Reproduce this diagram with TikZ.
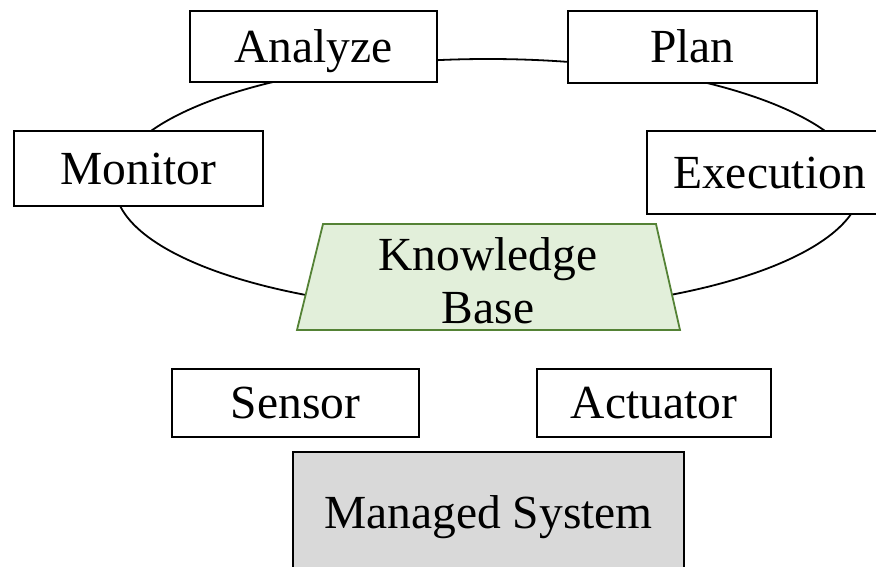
\documentclass[tikz,border=0pt]{standalone}
\usepackage{fontspec}
\setmainfont{Liberation Serif}
\begin{document}
\begin{tikzpicture}[x=1pt,y=-1pt,
  lbl/.style={font=\fontsize{47.5}{50}\selectfont, text height=31.4pt, text depth=0pt},
  box/.style={lbl, draw=black, line width=2pt, fill=white, inner sep=0pt},
  loop/.style={draw=black, line width=1.8pt},
  kbshape/.style={draw=kbline, fill=kbfill, line width=1.8pt, line join=miter},
]
\definecolor{kbfill}{HTML}{E2EFDA}
\definecolor{kbline}{HTML}{548235}
\definecolor{sysfill}{HTML}{D9D9D9}
\useasboundingbox (0,0) rectangle (876,567);

% MAPE-K control loop
\draw[loop] (488,185) ellipse [x radius=373, y radius=126];

% Knowledge base
\draw[kbshape] (323,224) -- (656,224) -- (680,330) -- (297,330) -- cycle;
\node[lbl, anchor=base] (kb1) at (488,270) {Knowledge};
\node[lbl, anchor=base] (kb2) at (488,323) {Base};

% Loop stages
\node[box, minimum width=247pt, minimum height=71pt] (analyze) at (313.5,46.5) {Analyze};
\node[box, minimum width=249pt, minimum height=72pt] (plan) at (692.5,47) {Plan};
\node[box, minimum width=249pt, minimum height=75pt] (monitor) at (138.5,168.5) {Monitor};
\node[box, minimum width=246pt, minimum height=82pt] (execution) at (769.5,172.5) {Execution};

% Sensor / actuator
\node[box, minimum width=247pt, minimum height=68pt] (sensor) at (295.5,403) {Sensor};
\node[box, minimum width=234pt, minimum height=68pt] (actuator) at (654,403) {Actuator};

% Managed system
\node[box, fill=sysfill, minimum width=391pt, minimum height=122pt] (managed) at (488.5,513) {Managed System};
\end{tikzpicture}
\end{document}
